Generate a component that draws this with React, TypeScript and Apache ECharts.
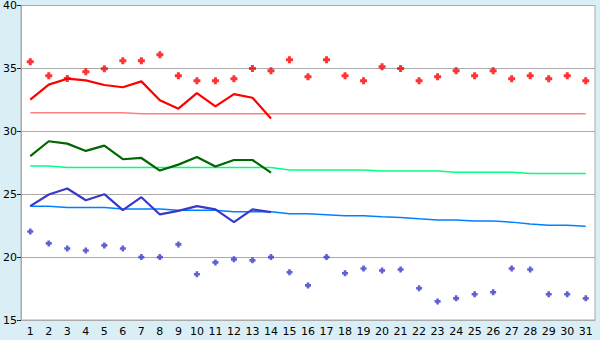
import React, { useEffect, useRef } from "react";
import * as echarts from "echarts";

const days: string[] = Array.from({ length: 31 }, (_, i) => String(i + 1));

// Red: daily maxima (points), 14-day line, trend
const redPoints = [35.53, 34.42, 34.2, 34.74, 34.97, 35.61, 35.61, 36.08, 34.42, 34.02, 34.02, 34.18, 35.0, 34.82, 35.69, 34.34, 35.69, 34.42, 34.02, 35.13, 35.0, 34.02, 34.34, 34.82, 34.42, 34.82, 34.18, 34.42, 34.18, 34.42, 34.02];
const redLine = [32.52, 33.71, 34.18, 34.05, 33.68, 33.5, 33.97, 32.46, 31.8, 33.04, 31.98, 32.96, 32.67, 31.01];
const redTrend = [31.48, 31.48, 31.48, 31.48, 31.48, 31.48, 31.4, 31.4, 31.4, 31.4, 31.4, 31.4, 31.4, 31.4, 31.4, 31.4, 31.4, 31.4, 31.4, 31.4, 31.4, 31.4, 31.4, 31.4, 31.4, 31.4, 31.4, 31.4, 31.4, 31.4, 31.4];

// Green: 14-day line, trend
const greenLine = [28.02, 29.21, 29.02, 28.44, 28.86, 27.78, 27.88, 26.88, 27.35, 27.96, 27.2, 27.72, 27.72, 26.72];
const greenTrend = [27.25, 27.25, 27.12, 27.12, 27.12, 27.12, 27.12, 27.12, 27.12, 27.12, 27.12, 27.12, 27.12, 27.12, 26.93, 26.93, 26.93, 26.93, 26.93, 26.84, 26.84, 26.84, 26.84, 26.75, 26.75, 26.75, 26.75, 26.65, 26.65, 26.65, 26.65];

// Blue: daily minima (points), 14-day line, trend
const bluePoints = [22.04, 21.09, 20.69, 20.53, 20.93, 20.69, 20.0, 20.0, 21.01, 18.63, 19.58, 19.82, 19.74, 20.0, 18.79, 17.75, 20.0, 18.71, 19.1, 18.94, 19.02, 17.52, 16.48, 16.72, 17.04, 17.2, 19.1, 19.02, 17.04, 17.04, 16.72];
const blueLine = [24.05, 24.98, 25.45, 24.52, 25.0, 23.73, 24.76, 23.39, 23.67, 24.05, 23.79, 22.78, 23.79, 23.57];
const blueTrend = [24.05, 24.05, 23.95, 23.95, 23.95, 23.83, 23.83, 23.83, 23.72, 23.72, 23.72, 23.6, 23.6, 23.6, 23.44, 23.44, 23.36, 23.28, 23.28, 23.2, 23.15, 23.04, 22.94, 22.94, 22.86, 22.86, 22.78, 22.64, 22.54, 22.54, 22.46];

const yTicks = { min: 15, max: 40, interval: 5 };

const PLUS = "path://M2,0H5V2H7V5H5V7H2V5H0V2H2Z";

export default function App() {
  const ref = useRef<HTMLDivElement>(null);
  useEffect(() => {
    if (!ref.current) return;
    const chart = echarts.init(ref.current, undefined, { renderer: "svg" });
    const font = "DejaVu Sans";
    chart.setOption({
      animation: false,
      backgroundColor: "#d9eff5",
      grid: {
        left: 20,
        right: 5,
        top: 5,
        bottom: 20,
        show: true,
        backgroundColor: "#ffffff",
        borderColor: "#aaaaaa",
        borderWidth: 1,
      },
      xAxis: {
        type: "category",
        data: days,
        boundaryGap: true,
        axisLine: { lineStyle: { color: "#aaaaaa", width: 1 } },
        axisTick: { alignWithLabel: true, length: 4, lineStyle: { color: "#222222" } },
        axisLabel: { color: "#000", fontFamily: font, fontSize: 11, margin: 6, interval: 0 },
        splitLine: { show: false },
      },
      yAxis: {
        type: "value",
        min: yTicks.min,
        max: yTicks.max,
        interval: yTicks.interval,
        axisLine: { show: true, lineStyle: { color: "#aaaaaa", width: 1 } },
        axisTick: { show: true, length: 4, lineStyle: { color: "#222222" } },
        axisLabel: { color: "#000", fontFamily: font, fontSize: 11, margin: 4 },
        splitLine: { lineStyle: { color: "#aaaaaa", width: 1 } },
      },
      series: [
        { type: "line", data: redTrend, symbol: "none", lineStyle: { color: "#ff8080", width: 1.5 }, z: 2 },
        { type: "line", data: greenTrend, symbol: "none", lineStyle: { color: "#00ff80", width: 1.5 }, z: 2 },
        { type: "line", data: blueTrend, symbol: "none", lineStyle: { color: "#0080ff", width: 1.5 }, z: 2 },
        { type: "line", data: redLine, symbol: "none", lineStyle: { color: "#ff0000", width: 2.2 }, z: 3 },
        { type: "line", data: greenLine, symbol: "none", lineStyle: { color: "#006600", width: 2.2 }, z: 3 },
        { type: "line", data: blueLine, symbol: "none", lineStyle: { color: "#3838cc", width: 2.2 }, z: 3 },
        { type: "scatter", data: redPoints, symbol: PLUS, symbolSize: 7, itemStyle: { color: "#ff0000" }, z: 4 },
        { type: "scatter", data: bluePoints, symbol: PLUS, symbolSize: 6, itemStyle: { color: "#3838cc" }, z: 4 },
      ],
    });
    return () => chart.dispose();
  }, []);
  return (
    <div
      ref={ref}
      style={{ position: "fixed", left: 0, top: 0, width: 600, height: 340 }}
    />
  );
}
